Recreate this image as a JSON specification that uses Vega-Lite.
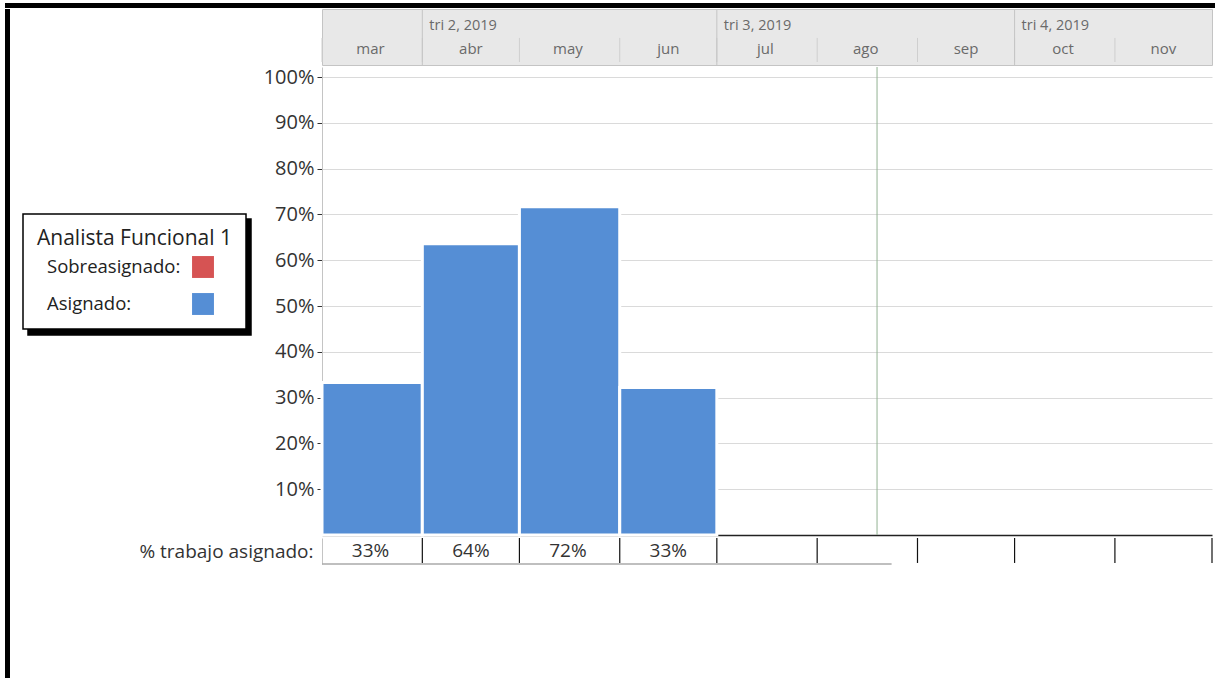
{
  "$schema": "https://vega.github.io/schema/vega-lite/v6.json",
  "padding": {"left": 5, "top": 3, "right": 0, "bottom": 0},
  "background": "white",
  "spacing": 0,
  "config": {
    "font": "Open Sans",
    "view": {"stroke": null},
    "concat": {"spacing": 0},
    "legend": {"strokeWidth": 1.5}
  },
  "datasets": {
    "meses": [
      {"mes": "mar", "inicio": "2019-03-01", "fin": "2019-04-01", "medio": "2019-03-16", "asignado": 33.3, "etiqueta": "33%", "estado": "Asignado"},
      {"mes": "abr", "inicio": "2019-04-01", "fin": "2019-05-01", "medio": "2019-04-16", "asignado": 63.6, "etiqueta": "64%", "estado": "Asignado"},
      {"mes": "may", "inicio": "2019-05-01", "fin": "2019-06-01", "medio": "2019-05-16", "asignado": 71.7, "etiqueta": "72%", "estado": "Asignado"},
      {"mes": "jun", "inicio": "2019-06-01", "fin": "2019-07-01", "medio": "2019-06-16", "asignado": 32.2, "etiqueta": "33%", "estado": "Asignado"},
      {"mes": "jul", "inicio": "2019-07-01", "fin": "2019-08-01", "medio": "2019-07-16", "asignado": null, "etiqueta": "", "estado": "Asignado"},
      {"mes": "ago", "inicio": "2019-08-01", "fin": "2019-09-01", "medio": "2019-08-16", "asignado": null, "etiqueta": "", "estado": "Asignado"},
      {"mes": "sep", "inicio": "2019-09-01", "fin": "2019-10-01", "medio": "2019-09-16", "asignado": null, "etiqueta": "", "estado": "Asignado"},
      {"mes": "oct", "inicio": "2019-10-01", "fin": "2019-11-01", "medio": "2019-10-16", "asignado": null, "etiqueta": "", "estado": "Asignado"},
      {"mes": "nov", "inicio": "2019-11-01", "fin": "2019-12-01", "medio": "2019-11-16", "asignado": null, "etiqueta": "", "estado": "Asignado"}
    ],
    "trimestres": [
      {"inicio": "2019-04-01", "etiqueta": "tri 2, 2019"},
      {"inicio": "2019-07-01", "etiqueta": "tri 3, 2019"},
      {"inicio": "2019-10-01", "etiqueta": "tri 4, 2019"}
    ],
    "hoy": [{"fecha": "2019-08-19T12:00:00Z", "sombra": "b"}],
    "linea_inferior": [{"desde": "2019-03-01", "hasta": "2019-08-24"}]
  },
  "vconcat": [
    {
      "width": 1210,
      "height": 5,
      "data": {"values": []},
      "mark": "point",
      "encoding": {},
      "view": {"fill": "black", "stroke": null}
    },
    {
      "spacing": 0,
      "hconcat": [
        {
          "width": 5,
          "height": 670,
          "data": {"values": []},
          "mark": "point",
          "encoding": {},
          "view": {"fill": "black", "stroke": null}
        },
        {
          "spacing": 0,
          "resolve": {"legend": {"color": "independent", "opacity": "independent"}},
          "vconcat": [
            {
              "width": 890,
              "height": 56,
              "view": {"fill": "#e8e8e8", "stroke": "#c4c4c4"},
              "layer": [
                {
                  "data": {"name": "meses"},
                  "mark": {"type": "rule", "color": "#cfcfcf", "strokeWidth": 1},
                  "encoding": {
                    "x": {"field": "inicio", "type": "temporal", "scale": {"type": "utc", "domain": [{"year": 2019, "month": 3, "date": 1, "utc": true}, {"year": 2019, "month": 12, "date": 1, "utc": true}]}, "axis": null},
                    "y": {"datum": 0.16, "type": "quantitative", "scale": {"domain": [0, 3]}, "axis": null},
                    "y2": {"datum": 1.45}
                  }
                },
                {
                  "data": {"name": "trimestres"},
                  "mark": {"type": "rule", "color": "#c4c4c4", "strokeWidth": 1},
                  "encoding": {
                    "x": {"field": "inicio", "type": "temporal"}
                  }
                },
                {
                  "data": {"name": "trimestres"},
                  "mark": {"type": "text", "align": "left", "baseline": "middle", "dx": 7, "fontSize": 14.5, "color": "#6a6a6a"},
                  "encoding": {
                    "x": {"field": "inicio", "type": "temporal"},
                    "y": {"datum": 2.08, "type": "quantitative"},
                    "text": {"field": "etiqueta"}
                  }
                },
                {
                  "data": {"name": "meses"},
                  "mark": {"type": "text", "align": "center", "baseline": "middle", "fontSize": 15, "color": "#6a6a6a"},
                  "encoding": {
                    "x": {"field": "medio", "type": "temporal"},
                    "y": {"datum": 0.88, "type": "quantitative"},
                    "text": {"field": "mes"}
                  }
                }
              ]
            },
            {
              "width": 890,
              "height": 468,
              "layer": [
                {
                  "data": {"name": "meses"},
                  "transform": [{"filter": "datum.asignado != null"}],
                  "mark": {"type": "rect", "stroke": "white", "strokeWidth": 3},
                  "encoding": {
                    "x": {"field": "inicio", "type": "temporal",
                      "scale": {"type": "utc", "domain": [{"year": 2019, "month": 3, "date": 1, "utc": true}, {"year": 2019, "month": 12, "date": 1, "utc": true}]},
                      "axis": {"orient": "bottom", "labels": false, "ticks": false, "grid": false, "title": null, "domainColor": "#222222", "domainWidth": 1.5}},
                    "x2": {"field": "fin"},
                    "y": {
                      "field": "asignado", "type": "quantitative",
                      "scale": {"domain": [0, 102.2], "nice": false, "zero": true},
                      "axis": {
                        "title": null,
                        "values": [10, 20, 30, 40, 50, 60, 70, 80, 90, 100],
                        "labelExpr": "datum.value + '%'",
                        "labelFontSize": 20,
                        "labelColor": "#333333",
                        "tickColor": "#333333",
                        "tickSize": 5,
                        "labelPadding": 3,
                        "domainColor": "#c4c4c4",
                        "gridColor": "#dadada",
                        "minExtent": 312,
                        "maxExtent": 312
                      }
                    },
                    "y2": {"datum": 0},
                    "color": {
                      "field": "estado", "type": "nominal",
                      "scale": {"domain": ["Sobreasignado", "Asignado"], "range": ["#d65353", "#558ed5"]},
                      "legend": {
                        "orient": "none",
                        "legendX": -299,
                        "legendY": 147,
                        "zindex": 2,
                        "title": "Analista Funcional 1",
                        "titleLimit": 400,
                        "titleFontSize": 21,
                        "titleFontWeight": "normal",
                        "titleColor": "#222222",
                        "titlePadding": 7,
                        "labelFontSize": 18.5,
                        "labelColor": "#222222",
                        "labelExpr": "datum.label + ':'",
                        "symbolType": "square",
                        "symbolSize": 480,
                        "symbolStrokeWidth": 0,
                        "symbolOpacity": 1,
                        "symbolOffset": 155,
                        "labelOffset": -167,
                        "rowPadding": 15,
                        "padding": 14,
                        "strokeColor": "black",
                        "fillColor": "white"
                      }
                    }
                  }
                },
                {
                  "data": {"name": "hoy"},
                  "mark": {"type": "rule", "color": "#93b293", "strokeWidth": 1},
                  "encoding": {
                    "x": {"field": "fecha", "type": "temporal"},
                    "opacity": {
                      "field": "sombra", "type": "nominal",
                      "scale": {"domain": ["a", "b"], "range": [1, 1]},
                      "legend": {
                        "orient": "none",
                        "legendX": -294,
                        "legendY": 152,
                        "zindex": 1,
                        "title": null,
                        "labelExpr": "''",
                        "labelFontSize": 1,
                        "symbolType": "square",
                        "symbolSize": 480,
                        "symbolStrokeWidth": 0,
                        "symbolFillColor": "black",
                        "symbolOffset": 173,
                        "labelOffset": 0,
                        "rowPadding": 44,
                        "padding": 14,
                        "strokeColor": "black",
                        "fillColor": "black"
                      }
                    }
                  }
                }
              ]
            },
            {
              "width": 890,
              "height": 26,
              "layer": [
                {
                  "data": {"name": "meses"},
                  "mark": {"type": "rule", "color": "#111111", "strokeWidth": 1.2},
                  "encoding": {
                    "x": {"field": "fin", "type": "temporal", "axis": null,
                      "scale": {"type": "utc", "domain": [{"year": 2019, "month": 3, "date": 1, "utc": true}, {"year": 2019, "month": 12, "date": 1, "utc": true}]}},
                    "y": {"datum": 0.04, "type": "quantitative", "scale": {"domain": [0, 1]},
                      "axis": {
                        "title": null,
                        "values": [0.5],
                        "labelExpr": "'% trabajo asignado:'",
                        "labelFontSize": 19,
                        "labelColor": "#333333",
                        "ticks": false,
                        "grid": false,
                        "labelPadding": 9,
                        "domainColor": "#c4c4c4",
                        "minExtent": 312,
                        "maxExtent": 312
                      }
                    },
                    "y2": {"datum": 1}
                  }
                },
                {
                  "data": {"name": "linea_inferior"},
                  "mark": {"type": "rule", "color": "#aaaaaa", "strokeWidth": 1.5},
                  "encoding": {
                    "x": {"field": "desde", "type": "temporal"},
                    "x2": {"field": "hasta"},
                    "y": {"datum": 0, "type": "quantitative"}
                  }
                },
                {
                  "data": {"name": "meses"},
                  "mark": {"type": "text", "align": "center", "baseline": "middle", "fontSize": 19, "color": "#333333"},
                  "encoding": {
                    "x": {"field": "medio", "type": "temporal"},
                    "y": {"datum": 0.5, "type": "quantitative"},
                    "text": {"field": "etiqueta"}
                  }
                }
              ]
            }
          ]
        }
      ]
    }
  ]
}
